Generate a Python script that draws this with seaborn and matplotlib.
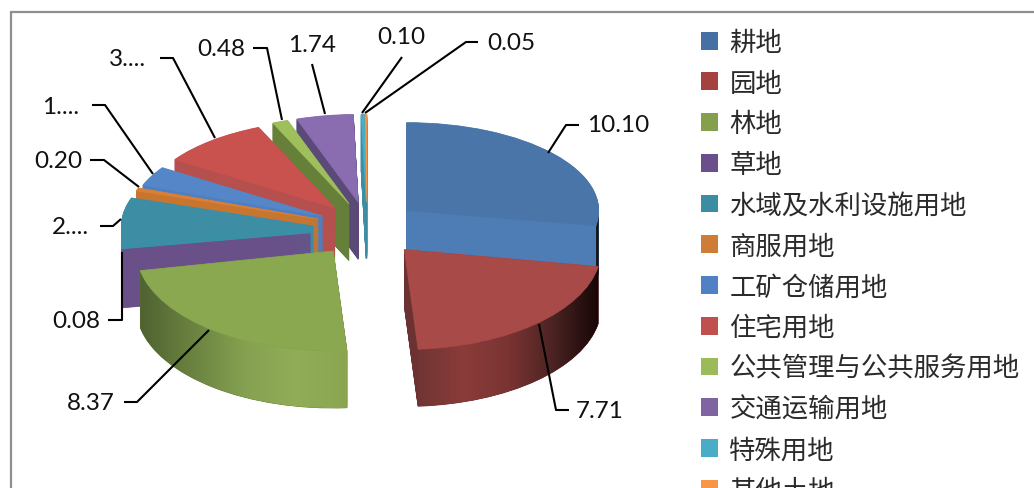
import numpy as np
import matplotlib
matplotlib.use("Agg")
import matplotlib.pyplot as plt
from matplotlib.colors import LinearSegmentedColormap
from matplotlib.patches import Patch, PathPatch
from matplotlib.path import Path
from matplotlib.transforms import Affine2D
import seaborn as sns

categories = ["耕地", "园地", "林地", "草地", "水域及水利设施用地", "商服用地", "工矿仓储用地",
              "住宅用地", "公共管理与公共服务用地", "交通运输用地", "特殊用地", "其他土地"]
values = [10.10, 7.71, 8.37, 0.08, 2.95, 0.20, 1.30, 3.35, 0.48, 1.74, 0.10, 0.05]
value_labels = ["10.10", "7.71", "8.37", "0.08", "2....", "0.20", "1....", "3....", "0.48", "1.74", "0.10", "0.05"]
top_colors = ["#4a75a8", "#a84a47", "#8aa84f", "#6b4f8a", "#3d8ea5", "#d98036",
              "#5587c8", "#c9524f", "#9fbf5c", "#8a6db0", "#4bacc6", "#f79646"]
side_colors = ["#4e7cb4", "#6b3231", "#66803a", "#6a5088", "#3a8ea5", "#c8762f",
               "#4f7fc0", "#b5504e", "#66803a", "#5b4a78", "#3a8ea5", "#c08040"]
legend_colors = ["#466fa3", "#a5413f", "#84a04c", "#6b4f8c", "#3c8da4", "#cf7c37",
                 "#4f81c4", "#c0504d", "#9bbb59", "#8064a2", "#4bacc6", "#f79646"]
gradients = {0: ["#222222", "#050505"],
             1: ["#703533", "#8a3c3a", "#7a3432", "#4a2322", "#170606"],
             2: ["#4f6231", "#6a8240", "#85a050", "#92ad58", "#8aa650"]}
explode = [0.27, 0.29, 0.29, 0.30, 0.28, 0.27, 0.26, 0.26, 0.26, 0.26, 0.26, 0.26]
# Back-to-front drawing order of the slice walls
wall_rank = [1, 11, 10, 9, 8, 7, 6, 5, 4, 3, 2, 0]

# Placement of the label text and its leader, in picture pixels
label_xy = [(618, 126), (600, 411), (91, 403), (76, 321), (70, 228), (58, 162),
            (61, 108), (128, 60), (221, 50), (312, 45), (401, 38), (511, 44)]
leaders = [[(579, 126), (566, 126), (548, 154)],
           [(569, 411), (556, 411), (539, 325)],
           [(124, 403), (137, 403), (209, 331)],
           [(108, 321), (122, 321), (122, 253)],
           [(100, 227), (113, 227), (121, 220)],
           [(90, 161), (104, 161), (139, 188)],
           [(92, 106), (105, 106), (153, 175)],
           [(160, 59), (173, 59), (215, 139)],
           [(253, 49), (267, 49), (282, 121)],
           [(312, 65), (325, 115)],
           [(402, 58), (362, 114)],
           [(478, 43), (466, 43), (365, 114)]]

W, H = 1034, 489
CX, CY, RX, RY = 367, 229, 192, 100     # pie centre and radii in pixels
DEPTH = 0.57
BACK = 0.88                             # back half looks flatter (perspective)
FRONT_X = 1.025                         # front slices look wider
FRONT = (1, 2)

sns.set_theme(style="white")
plt.rcParams["font.family"] = ["Noto Sans CJK SC", "DejaVu Sans"]
palette_top = sns.color_palette(top_colors)
palette_side = sns.color_palette(side_colors)
palette_legend = sns.color_palette(legend_colors)

fig = plt.figure(figsize=(W / 100, H / 100), dpi=100, facecolor="white")
ax = fig.add_axes([0, 0, 1, 1])


def draw_pie(colors, z, zorder, stacked=False):
    wedges, _ = ax.pie(values, explode=explode, colors=colors, startangle=90,
                       counterclock=False, radius=1, center=(0, -z),
                       wedgeprops=dict(linewidth=0.5, zorder=zorder))
    for i, w in enumerate(wedges):
        w.set_edgecolor(colors[i])
        if stacked:
            w.set_zorder(zorder + wall_rank[i] * 0.01)
        sx, sy = (FRONT_X, 1.0) if i in FRONT else (1.0, BACK)
        cx, cy = w.center
        w.set_transform(Affine2D().translate(-cx, -cy).scale(sx, sy).translate(cx, cy) + ax.transData)
    return wedges


for z in np.linspace(DEPTH, 0.005, 115):
    draw_pie(palette_side, z, 1, stacked=True)
top = draw_pie(palette_top, 0, 3)

# Curved outer walls with their shading
for i, cols in gradients.items():
    w = top[i]
    a = np.radians(np.linspace(w.theta1, w.theta2, 120))
    a = a[np.sin(a) < 0]
    if len(a) < 2:
        continue
    sx = FRONT_X if i in FRONT else 1.0
    x = w.center[0] + sx * np.cos(a)
    y = w.center[1] + np.sin(a)
    verts = np.vstack([np.c_[x, y], np.c_[x, y - DEPTH][::-1], [[x[0], y[0]]]])
    clip = PathPatch(Path(verts), transform=ax.transData, facecolor="none", edgecolor="none")
    ax.add_patch(clip)
    im = ax.imshow(np.linspace(0, 1, 256)[None, :], aspect="auto",
                   cmap=LinearSegmentedColormap.from_list("w%d" % i, cols),
                   extent=(x.min(), x.max(), y.min() - DEPTH, y.max()), zorder=2)
    im.set_clip_path(clip)

ax.set_aspect("auto")
ax.set_xlim(-CX / RX, (W - CX) / RX)
ax.set_ylim((CY - H) / RY, CY / RY)
ax.axis("off")

# Overlay in pixel coordinates: frame, leaders, labels, legend
ov = fig.add_axes([0, 0, 1, 1], facecolor="none")
ov.set_xlim(0, W)
ov.set_ylim(H, 0)
ov.axis("off")

ov.plot([11, 11, W], [H, 13, 13], color="#8f8f8f", lw=1.6, solid_joinstyle="miter")

for pts in leaders:
    px, py = zip(*pts)
    ov.plot(px, py, color="#000000", lw=1.5, solid_capstyle="butt")
for txt, (x, y) in zip(value_labels, label_xy):
    ov.text(x, y, txt, ha="center", va="center", fontsize=17.5, family="Lato", color="#111111")

handles = [Patch(facecolor=c, edgecolor="none") for c in palette_legend]
leg = ov.legend(handles, categories, loc="upper left", bbox_to_anchor=(693 / W, 1 - 22 / H),
                bbox_transform=fig.transFigure, frameon=False, fontsize=19, labelspacing=0.52,
                handlelength=0.66, handleheight=0.66, handletextpad=0.42, borderpad=0.3,
                borderaxespad=0, labelcolor="#2a2a2a")

fig.savefig("out.png", dpi=100)
